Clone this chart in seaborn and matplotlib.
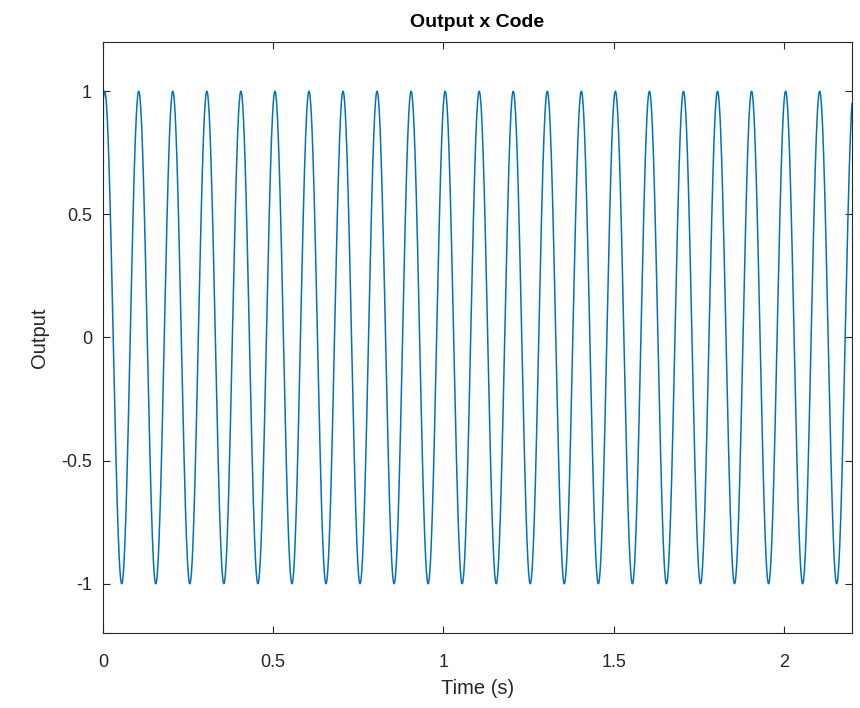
import numpy as np
import pandas as pd
import matplotlib
matplotlib.use("Agg")
import matplotlib.pyplot as plt
import seaborn as sns

# Signal parameters
freq_hz = 10.0          # peaks every 0.1 s
amplitude = 1.0
peak_offset_s = 0.005   # first peak just after t = 0
initial_value = 0.0     # the trace starts at 0
sample_step_s = 0.001
duration_s = 2.2

x_ticks = [0, 0.5, 1, 1.5, 2]
y_ticks = [-1, -0.5, 0, 0.5, 1]
y_tick_labels = ["-1", "-0.5", "0", "0.5", "1"]
x_tick_labels = ["0", "0.5", "1", "1.5", "2"]

time = np.arange(0, duration_s + sample_step_s / 2, sample_step_s)
output = amplitude * np.cos(2 * np.pi * freq_hz * (time - peak_offset_s))
output[0] = initial_value
df = pd.DataFrame({"Time (s)": time, "Output": output})

sns.set_theme(style="white")
plt.rcParams["font.family"] = ["Liberation Sans", "DejaVu Sans"]

fig = plt.figure(figsize=(8.6, 7.08), dpi=100)
ax = fig.add_axes([103 / 860, 1 - 633 / 708, (852 - 103) / 860, (633 - 42) / 708])

sns.lineplot(data=df, x="Time (s)", y="Output", ax=ax, color="#0072BD",
             linewidth=1.1, estimator=None, sort=False)

ax.set_xlim(0, 2.2)
ax.set_ylim(-1.2, 1.2)
ax.set_xticks(x_ticks)
ax.set_xticklabels(x_tick_labels)
ax.set_yticks(y_ticks)
ax.set_yticklabels(y_tick_labels)
ax.tick_params(axis="both", direction="in", length=5, width=0.8, colors="#262626",
               labelsize=13, top=True, right=True, bottom=True, left=True)
ax.tick_params(axis="x", pad=15)
ax.tick_params(axis="y", pad=8)
for s in ax.spines.values():
    s.set_color("#262626")
    s.set_linewidth(0.8)
    s.set_visible(True)

ax.set_xlabel("Time (s)", fontsize=14.5, color="#262626", labelpad=6)
ax.set_ylabel("Output", fontsize=14.5, color="#262626", labelpad=9)
ax.set_title("Output x Code", fontsize=14, fontweight="bold", color="black", pad=11)

fig.savefig("out.png", dpi=100, facecolor="white")
